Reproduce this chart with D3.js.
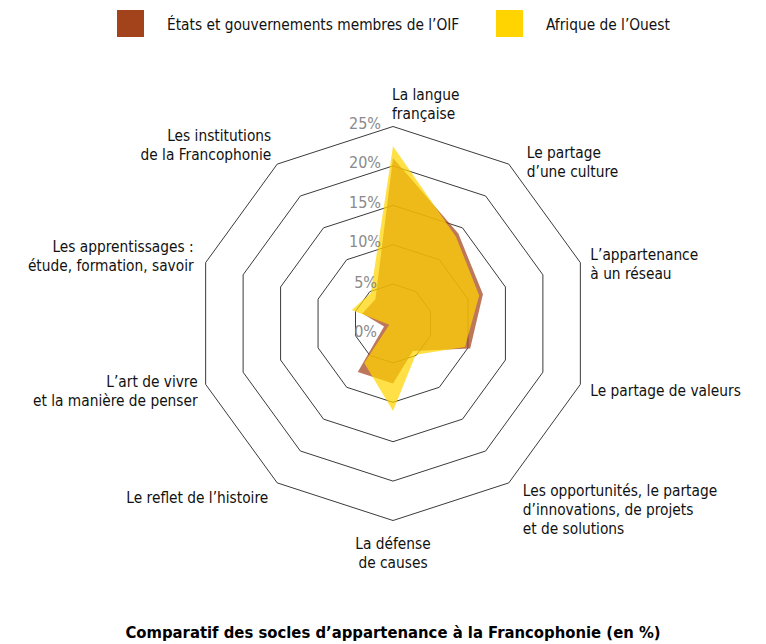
<!DOCTYPE html>
<html>
<head>
<meta charset="utf-8">
<script src="https://cdn.jsdelivr.net/npm/d3@7"></script>
<style>
  body { margin: 0; background: #fff; }
  svg { font-family: "Liberation Sans Narrow", "DejaVu Sans Condensed", "Roboto", sans-serif; }
</style>
</head>
<body>
<svg width="766" height="644"></svg>
<script>
//  data
var axes = [
  ["La langue", "française"],
  ["Le partage", "d\u2019une culture"],
  ["L\u2019appartenance", "à un réseau"],
  ["Le partage de valeurs"],
  ["Les opportunités, le partage", "d\u2019innovations, de projets", "et de solutions"],
  ["La défense", "de causes"],
  ["Le reflet de l\u2019histoire"],
  ["L\u2019art de vivre", "et la manière de penser"],
  ["Les apprentissages :", "étude, formation, savoir"],
  ["Les institutions", "de la Francophonie"]
];
var seriesNames = ["États et gouvernements membres de l\u2019OIF", "Afrique de l\u2019Ouest"];
var oifValues = [21, 14.1, 12, 10.3, 4.3, 7.6, 7.6, 1.2, 4.1, 3.8];
var aoValues = [22.5, 13.6, 11.5, 9.6, 4.9, 11.1, 6.2, 0.5, 5.5, 4.8];
var ticks = [0, 5, 10, 15, 20, 25];
var title = "Comparatif des socles d\u2019appartenance à la Francophonie (en %)";

//  layout
var svg = d3.select("svg");
var cx = 393, cy = 323.5;
var R = 197;
var colors = ["#a3431c", "#ffd400"];
var fillOpacity = 0.72;

// label offsets from the outer vertex: dx, dy of first baseline, anchor
var labelLayout = [
  [-1, -27, "start"],
  [18, -6, "start"],
  [10, -3, "start"],
  [10, 12, "start"],
  [14, 13, "start"],
  [0, 28, "middle"],
  [-9, 20, "end"],
  [-8, 3, "end"],
  [-12, -11, "end"],
  [-6, -23, "end"]
];
var lineHeight = 19;

var r = d3.scaleLinear().domain([0, 25]).range([0, R]);
var angle = d3.scaleLinear().domain([0, axes.length]).range([0, 2 * Math.PI]);

function px(i, v) { return cx + r(v) * Math.sin(angle(i)); }
function py(i, v) { return cy - r(v) * Math.cos(angle(i)); }

var radial = d3.lineRadial()
  .angle(function(d, i) { return angle(i); })
  .radius(function(d) { return r(d); })
  .curve(d3.curveLinearClosed);

var g = svg.append("g").attr("transform", "translate(" + cx + "," + cy + ")");

//  grid rings
g.selectAll(".ring")
  .data(ticks.filter(function(t) { return t > 0; }))
  .enter().append("path")
    .attr("class", "ring")
    .attr("d", function(t) { return radial(axes.map(function() { return t; })); })
    .attr("fill", "none")
    .attr("stroke", "#3a3a3a")
    .attr("stroke-width", 1);

//  series areas
g.selectAll(".area")
  .data([oifValues, aoValues])
  .enter().append("path")
    .attr("class", "area")
    .attr("d", radial)
    .attr("fill", function(d, i) { return colors[i]; })
    .attr("fill-opacity", fillOpacity)
    .attr("stroke", "none");

//  tick labels
svg.append("g").selectAll("text")
  .data(ticks)
  .enter().append("text")
    .attr("x", function(t) { return t <= 5 ? cx - 16 : cx - 12; })
    .attr("y", function(t) { return t === 0 ? cy + 13 : cy - r(t) + (t === 5 ? 4 : 2.5); })
    .attr("text-anchor", "end")
    .attr("fill", "#8a8a8a")
    .style("font-size", "16px")
    .text(function(t) { return t + "%"; });

//  axis labels
var labels = svg.append("g").selectAll("text")
  .data(axes)
  .enter().append("text")
    .attr("text-anchor", function(d, i) { return labelLayout[i][2]; })
    .attr("fill", "#111")
    .style("font-size", "15.3px");

labels.each(function(d, i) {
  var x = px(i, 25) + labelLayout[i][0];
  var y = py(i, 25) + labelLayout[i][1];
  d3.select(this).selectAll("tspan")
    .data(d)
    .enter().append("tspan")
      .attr("x", x)
      .attr("y", function(l, j) { return y + j * lineHeight; })
      .text(function(l) { return l; });
});

//  legend
var legend = svg.append("g").selectAll("g")
  .data(seriesNames)
  .enter().append("g")
    .attr("transform", function(d, i) { return "translate(" + [117, 496][i] + ",10)"; });

legend.append("rect")
  .attr("width", 27)
  .attr("height", 27)
  .attr("fill", function(d, i) { return colors[i]; });

legend.append("text")
  .attr("x", 50)
  .attr("y", 19.5)
  .attr("fill", "#111")
  .style("font-size", "15.3px")
  .text(function(d) { return d; });

//  title
svg.append("text")
  .attr("x", cx)
  .attr("y", 638)
  .attr("text-anchor", "middle")
  .attr("fill", "#000")
  .style("font-size", "16.5px")
  .style("font-weight", "bold")
  .text(title);
</script>
</body>
</html>
